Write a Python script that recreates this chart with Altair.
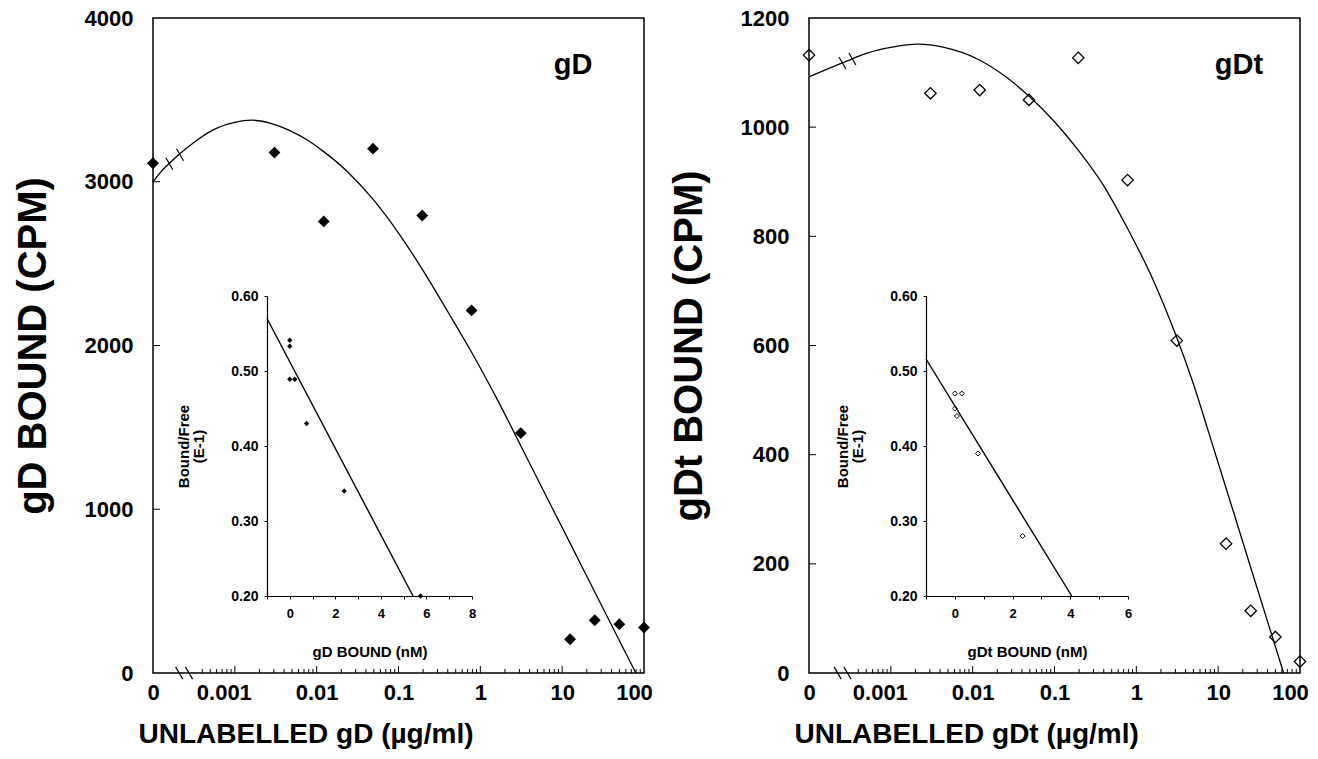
import math
import altair as alt
import pandas as pd
import numpy as np

FONT = "Liberation Sans"
W, H = 491, 655

# ---- main data: unlabelled protein concentration (ug/ml); 0 is drawn at the axis break
conc = [0, 0.00305, 0.0122, 0.0488, 0.195, 0.781, 3.125, 12.5, 25, 50, 100]
gd_bound = [3113, 3178, 2758, 3202, 2794, 2214, 1465, 206, 322, 298, 278]
gdt_bound = [1132, 1062, 1068, 1050, 1127, 903, 609, 237, 114, 66, 21]

# fitted curves, read along the axis position (log10 of concentration; -4 = "0")
gd_curve_u = [-4.0, -3.9, -3.78, -3.68, -3.5, -3.27, -3.0, -2.8, -2.55, -2.34, -2.1, -1.93,
              -1.62, -1.32, -1.0, -0.72, -0.39, -0.1, 0.2, 0.5, 0.8, 1.1, 1.4, 1.7, 1.9]
gd_curve_v = [3000, 3062, 3122, 3168, 3240, 3315, 3362, 3376, 3355, 3315, 3250, 3190,
              3060, 2898, 2687, 2474, 2200, 1953, 1677, 1382, 1085, 790, 493, 197, 0]
gdt_curve_u = [-4.0, -3.75, -3.54, -3.3, -3.0, -2.67, -2.35, -1.93, -1.62, -1.32, -1.0,
               -0.71, -0.4, -0.12, 0.2, 0.48, 0.685, 0.95, 1.2, 1.45, 1.65, 1.8]
gdt_curve_v = [1092, 1108, 1121, 1135, 1146, 1152, 1146, 1124, 1095, 1058, 1010,
               958, 893, 818, 722, 620, 535, 409, 289, 168, 72, 0]

# axis-break marks (position along axis) on the curve and on the x axis
gd_curve_break_u = [-3.80, -3.67]
gd_curve_break_v = [3110, 3165]
gd_axis_break_u = [-3.68, -3.56]
gdt_curve_break_u = [-3.59, -3.47]
gdt_curve_break_v = [1117, 1125]
gdt_axis_break_u = [-3.65, -3.53]

# Scatchard insets: bound (nM) vs bound/free (E-1)
gd_sc_bound = [0, 0, 0, 0.22, 0.74, 2.39, 5.74]
gd_sc_ratio = [0.541, 0.533, 0.489, 0.489, 0.430, 0.340, 0.200]
gd_sc_line_x = [-1.0, 5.41]
gd_sc_line_y = [0.570, 0.200]
gdt_sc_bound = [0, 0.24, 0, 0.07, 0.80, 2.35]
gdt_sc_ratio = [0.470, 0.470, 0.450, 0.440, 0.390, 0.280]
gdt_sc_line_x = [-1.0, 4.05]
gdt_sc_line_y = [0.516, 0.200]

x_tick_labels = ["0", "0.001", "0.01", "0.1", "1", "10", "100"]
x_tick_pos = [-4, -3, -2, -1, 0, 1, 2]

major_ticks = [-3, -2, -1, 0, 1]
minor_ticks = [math.log10(k * 10.0 ** d) for d in range(-4, 2) for k in range(2, 10)
               if math.log10(k * 10.0 ** d) > -3.45]

LABEL_EXPR = " : ".join(
    f"datum.value == {p} ? '{l}'" for p, l in zip(x_tick_pos, x_tick_labels)) + " : ''"

BREAK_SHAPE = "M -0.35 -0.6 L 0.35 0.6"


def u_of(c):
    return -4.0 if c == 0 else math.log10(c)


def panel(values, filled, curve_u, curve_v, ymax, ystep, ytitle, xtitle, tag,
          cb_u, cb_v, ab_u, sc_x, sc_y, line_x, line_y, sc_xmax, sc_xrange, sc_yrange,
          sc_xtitle, tag_x):
    pts = pd.DataFrame({"u": [u_of(c) for c in conc], "v": values})
    cur = pd.DataFrame({"u": curve_u, "v": curve_v})
    cbr = pd.DataFrame({"u": cb_u, "v": cb_v})
    abr = pd.DataFrame({"u": ab_u, "v": [0] * len(ab_u)})
    tmaj = pd.DataFrame({"u": major_ticks})
    tmin = pd.DataFrame({"u": minor_ticks})
    ytk = pd.DataFrame({"v": list(range(ystep, ymax, ystep))})

    xs = alt.Scale(domain=[-4, 2], nice=False, zero=False)
    ys = alt.Scale(domain=[0, ymax], nice=False, zero=True)
    x_enc = alt.X("u:Q", scale=xs, axis=alt.Axis(
        values=x_tick_pos, labelExpr=LABEL_EXPR, ticks=False, domain=False, grid=False,
        labelFont=FONT, labelFontSize=22, labelFontWeight="bold", labelColor="black",
        labelPadding=9, labelFlush=False, labelOverlap=False,
        labelOffset={"condition": [{"test": "datum.value == -3", "value": -11},
                                   {"test": "datum.value == 2", "value": -10}], "value": 0},
        title=xtitle, titleFont=FONT, titleFontSize=28, titleFontWeight="bold",
        titleColor="black", titleAnchor="start", titleAlign="left", titleX=-15,
        titlePadding=17))
    y_enc = alt.Y("v:Q", scale=ys, axis=alt.Axis(
        values=list(range(0, ymax + 1, ystep)), format="d", ticks=False, domain=False,
        grid=False, labelFont=FONT, labelFontSize=22, labelFontWeight="bold",
        labelColor="black", labelPadding=20, labelFlush=False,
        title=ytitle, titleFont=FONT, titleFontSize=40, titleFontWeight="bold",
        titleColor="black", titlePadding=31))

    curve = alt.Chart(cur).mark_line(color="black", strokeWidth=1.3,
                                     interpolate="monotone").encode(x=x_enc, y=y_enc)
    if filled:
        pmark = alt.Chart(pts).mark_point(shape="diamond", filled=True, fill="black",
                                          size=140, opacity=1, strokeWidth=0)
    else:
        pmark = alt.Chart(pts).mark_point(shape="diamond", filled=False, color="black",
                                          size=130, strokeWidth=1.3, opacity=1)
    points = pmark.encode(x="u:Q", y="v:Q")
    brk1 = alt.Chart(cbr).mark_point(shape=BREAK_SHAPE, size=400, filled=False,
                                     color="black", strokeWidth=1.2, opacity=1).encode(x="u:Q", y="v:Q")
    brk2 = alt.Chart(abr).mark_point(shape=BREAK_SHAPE, size=420, filled=False,
                                     color="black", strokeWidth=1.2, opacity=1).encode(x="u:Q", y="v:Q")
    tk1 = alt.Chart(tmaj).mark_rule(color="black", strokeWidth=1).encode(
        x="u:Q", y=alt.value(H), y2=alt.value(H - 7))
    tk2 = alt.Chart(tmin).mark_rule(color="black", strokeWidth=1).encode(
        x="u:Q", y=alt.value(H), y2=alt.value(H - 4))
    tk3 = alt.Chart(ytk).mark_rule(color="black", strokeWidth=1).encode(
        y="v:Q", x=alt.value(0), x2=alt.value(7))
    label = alt.Chart(pd.DataFrame({"t": [tag]})).mark_text(
        font=FONT, fontSize=29, fontWeight="bold", color="black", align="center",
        baseline="alphabetic").encode(text="t:N", x=alt.value(tag_x), y=alt.value(56))

    main = alt.layer(curve, points, brk1, brk2, tk1, tk2, tk3, label)

    # ---- inset (Scatchard plot) drawn in a sub-rectangle of the same view
    sc = pd.DataFrame({"bx": sc_x, "by": sc_y})
    ln = pd.DataFrame({"bx": line_x, "by": line_y})
    ix = alt.X("bx:Q", scale=alt.Scale(domain=[-1, sc_xmax], range=sc_xrange, nice=False, zero=False),
               axis=alt.Axis(orient="bottom", offset=-(H - sc_yrange[0]),
                             values=list(range(-1, sc_xmax + 1)),
                             labelExpr="datum.value % 2 == 0 ? format(datum.value, 'd') : ''",
                             tickSize=3, tickColor="black", domainColor="black", domainWidth=1.2,
                             grid=False, labelFont=FONT, labelFontSize=13, labelFontWeight="bold",
                             labelColor="black", labelPadding=8, labelFlush=False,
                             title=sc_xtitle, titleFont=FONT, titleFontSize=15,
                             titleFontWeight="bold", titleColor="black", titlePadding=24))
    iy = alt.Y("by:Q", scale=alt.Scale(domain=[0.2, 0.6], range=sc_yrange, nice=False, zero=False),
               axis=alt.Axis(orient="left", offset=-sc_xrange[0],
                             values=[0.2, 0.3, 0.4, 0.5, 0.6], format=".2f",
                             tickSize=3, tickColor="black", domainColor="black", domainWidth=1.2,
                             grid=False, labelFont=FONT, labelFontSize=14, labelFontWeight="bold",
                             labelColor="black", labelPadding=6, labelFlush=False,
                             title=["Bound/Free", "(E-1)"], titleFont=FONT, titleFontSize=15,
                             titleFontWeight="bold", titleColor="black", titlePadding=24,
                             titleLineHeight=15))
    iline = alt.Chart(ln).mark_line(color="black", strokeWidth=1.4).encode(x=ix, y=iy)
    if filled:
        ip = alt.Chart(sc).mark_point(shape="diamond", filled=True, fill="black", size=28,
                                      opacity=1, strokeWidth=0)
    else:
        ip = alt.Chart(sc).mark_point(shape="diamond", filled=False, color="black", size=25,
                                      strokeWidth=1, opacity=1)
    ipts = ip.encode(x="bx:Q", y="by:Q")
    inset = alt.layer(iline, ipts)

    return alt.layer(main, inset).resolve_scale(x="independent", y="independent").properties(
        width=W, height=H)


left = panel(gd_bound, True, gd_curve_u, gd_curve_v, 4000, 1000, "gD BOUND (CPM)",
             "UNLABELLED gD (µg/ml)", "gD", gd_curve_break_u, gd_curve_break_v, gd_axis_break_u,
             gd_sc_bound, gd_sc_ratio, gd_sc_line_x, gd_sc_line_y, 8, [114, 319], [578, 278],
             "gD BOUND (nM)", 420)
right = panel(gdt_bound, False, gdt_curve_u, gdt_curve_v, 1200, 200, "gDt BOUND (CPM)",
              "UNLABELLED gDt (µg/ml)", "gDt", gdt_curve_break_u, gdt_curve_break_v, gdt_axis_break_u,
              gdt_sc_bound, gdt_sc_ratio, gdt_sc_line_x, gdt_sc_line_y, 6, [117, 319], [578, 278],
              "gDt BOUND (nM)", 430)

chart = alt.hconcat(left, right, spacing=14).properties(
    padding={"left": 12, "top": 6, "right": 5, "bottom": 5}
).configure_view(stroke="black", strokeWidth=1.5)

chart.save("out.html", embed_options={"renderer": "svg", "actions": False})
